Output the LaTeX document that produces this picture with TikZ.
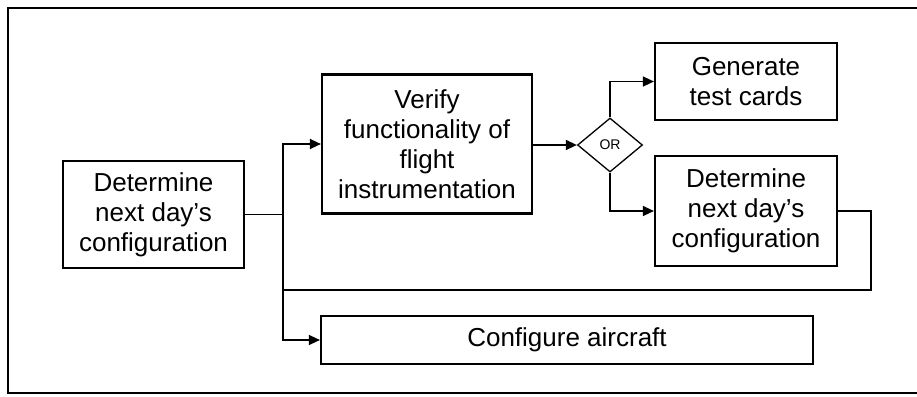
\documentclass[tikz,border=0pt]{standalone}
\usepackage{fontspec}
\setmainfont{Liberation Sans}
\usetikzlibrary{arrows.meta,shapes.geometric}
\begin{document}
\begin{tikzpicture}[x=1pt,y=-1pt,
  box/.style={draw,line width=2.2pt,align=center,inner sep=0pt,
    font=\fontsize{26}{30}\selectfont},
  conn/.style={line width=1.4pt},
  arr/.style={conn,-{Triangle[length=11pt,width=10pt]}},
  gate/.style={draw,diamond,line width=1.3pt,inner sep=0pt,
    minimum width=65pt,minimum height=54pt,font=\fontsize{14}{16}\selectfont}]
\useasboundingbox (0,0) rectangle (917,396);
\draw[line width=1.3pt] (917,8) -- (8,8) -- (8,393) -- (917,393);
\node[box,minimum width=181pt,minimum height=107pt] (L) at (153.5,214.5)
  {Determine\\next day’s\\configuration};
\node[box,minimum width=210pt,minimum height=139pt] (V) at (427,144)
  {Verify\\functionality of\\flight\\instrumentation};
\node[gate] (D) at (610,145) {OR};
\node[box,minimum width=182pt,minimum height=77pt] (G) at (746,81.5)
  {Generate\\test cards};
\node[box,minimum width=182pt,minimum height=110pt] (R) at (746,211)
  {Determine\\next day’s\\configuration};
\node[box,minimum width=492pt,minimum height=48pt] (C) at (567,340)
  {Configure aircraft};
\coordinate (J) at (283,214.5);
\coordinate (F) at (283,290);
\coordinate (E) at (871,211);
\draw[conn] (L.east) -- (J);
\draw[arr] (J) |- (V.west);
\draw[arr] (J) |- (C.west);
\draw[arr] (V.east |- D.west) -- (D.west);
\draw[arr] (D.north) |- (G.west);
\draw[arr] (D.south) |- (R.west);
\draw[conn] (R.east) -- (E) |- (F);
\end{tikzpicture}
\end{document}
